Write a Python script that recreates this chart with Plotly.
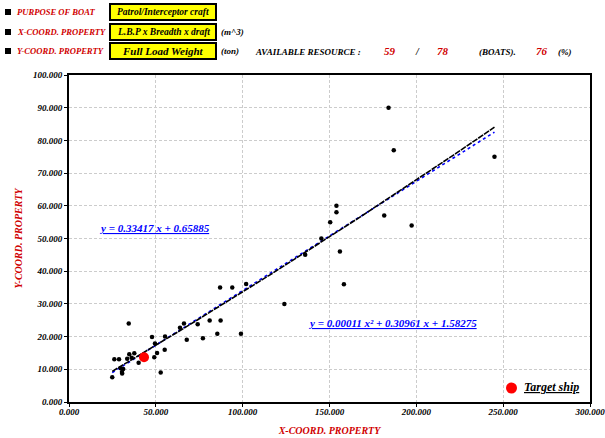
import plotly.graph_objects as go
import numpy as np

# ---------------- data ----------------
x_vals = [184, 187, 245, 154, 154, 150.4, 181.5, 197.3, 145.3, 136, 156, 158.3, 124, 102, 94, 87,
          99, 87.3, 85.4, 81, 77.1, 74.1, 67.8, 66.2, 63.9, 55.3, 55.1, 52.8, 50.7, 49.5, 49.1, 47.8,
          24.9, 26.1, 28.8, 34.4, 34.7, 36.1, 37.6, 40.1, 29.8, 30.5, 31.2, 30.6, 33.5]
y_vals = [90, 77, 75, 60, 58, 55, 57, 54, 50, 45, 46, 36, 30, 36.1, 35, 35,
          20.9, 24.9, 20.9, 24.9, 19.5, 23.8, 19, 24, 22.7, 20, 16, 9, 15, 17.9, 13.7, 19.9,
          7.6, 13.1, 13.1, 24, 14.6, 13.5, 14.9, 12, 10.3, 9.2, 10.1, 8.7, 13.2]
target_x = [43.2]
target_y = [13.7]
lin_coef = [0.33417, 0.65885]            # y = a x + b
quad_coef = [0.00011, 0.30961, 1.58275]  # y = a x^2 + b x + c
x_ticks = [0, 50, 100, 150, 200, 250, 300]
y_ticks = [0, 10, 20, 30, 40, 50, 60, 70, 80, 90, 100]

purpose = "Patrol/Interceptor craft"
x_prop = "L.B.P x Breadth x draft"
y_prop = "Full Load Weight"
avail, total, pct = "59", "78", "76"

# ---------------- layout helpers ----------------
W, H = 605, 438
L, R, T, B = 69, 590, 75, 402
def px(x):
    return (x - L) / (R - L)
def py(y):
    return (B - y) / (B - T)

SERIF = "Liberation Serif"
RED = "#d00000"

fig = go.Figure()

xf = np.linspace(min(x_vals), max(x_vals), 120)
fig.add_trace(go.Scatter(x=xf, y=lin_coef[0] * xf + lin_coef[1], mode="lines",
                         line=dict(color="#0000ff", width=1.6, dash="dot"),
                         showlegend=False, hoverinfo="skip"))
fig.add_trace(go.Scatter(x=xf, y=quad_coef[0] * xf**2 + quad_coef[1] * xf + quad_coef[2], mode="lines",
                         line=dict(color="black", width=1.6, dash="6px,1px"),
                         showlegend=False, hoverinfo="skip"))
fig.add_trace(go.Scatter(x=x_vals, y=y_vals, mode="markers",
                         marker=dict(color="black", size=4.5), showlegend=False))
fig.add_trace(go.Scatter(x=target_x, y=target_y, mode="markers",
                         marker=dict(color="#ff0000", size=10),
                         name="Target ship", showlegend=False))

ann = []
shapes = []
def text(x, y, s, color="black", size=9, anchor="left"):
    ann.append(dict(x=px(x), y=py(y), xref="paper", yref="paper", text=s, showarrow=False,
                    xanchor=anchor, yanchor="middle",
                    font=dict(family=SERIF, size=size, color=color, weight="bold", style="italic")))

rows = [(12, "PURPOSE OF BOAT", purpose, None),
        (32, "X-COORD. PROPERTY", x_prop, "(m^3)"),
        (51, "Y-COORD. PROPERTY", y_prop, "(ton)")]
for i, (yy, lab, box, unit) in enumerate(rows):
    shapes.append(dict(type="rect", xref="paper", yref="paper", x0=px(5), x1=px(11),
                       y0=py(yy - 3), y1=py(yy + 3), fillcolor="black", line=dict(width=0)))
    text(15, yy, lab, RED, 8.6)
    shapes.append(dict(type="rect", xref="paper", yref="paper", x0=px(110), x1=px(216),
                       y0=py(yy - 8), y1=py(yy + 8), fillcolor="#ffff00",
                       line=dict(color="black", width=2)))
    text(163, yy, box, "black", 11 if i == 2 else 9.5, "center")
    if unit:
        text(219, yy, unit, "black", 9)

text(253, 52, "AVAILABLE RESOURCE :", "black", 9)
text(390, 51, avail, RED, 11, "center")
text(417, 51, "/", "black", 10, "center")
text(443, 51, total, RED, 11, "center")
text(477, 52, "(BOATS).", "black", 9)
text(542, 51, pct, RED, 11, "center")
text(556, 52, "(%)", "black", 9)

# equations
text(97, 228, "<u>y = %.5f x + %.5f</u>" % (lin_coef[0], lin_coef[1]), "#0000ff", 11)
text(306, 323, "<u>y = %.5f x² + %.5f x + %.5f</u>" % tuple(quad_coef), "#0000ff", 11)

# legend-like key for the target ship
shapes.append(dict(type="circle", xref="paper", yref="paper", x0=px(506), x1=px(517),
                   y0=py(382.5), y1=py(393.5), fillcolor="#ff0000", line=dict(width=0)))
text(522, 387, "<u>Target ship</u>", "black", 12)

fig.update_layout(
    width=W, height=H,
    margin=dict(l=L, r=W - R, t=T, b=H - B),
    paper_bgcolor="white", plot_bgcolor="white",
    annotations=ann, shapes=shapes, showlegend=False,
    xaxis=dict(range=[0, 300], tickvals=x_ticks, tickformat=".3f", automargin=False,
               ticklabeloverflow="allow", ticklabelstandoff=-3,
               showgrid=True, gridcolor="#cccccc", griddash="3px,2px", gridwidth=1,
               showline=True, linecolor="black", linewidth=2, mirror=True,
               ticks="outside", ticklen=3, tickcolor="black", zeroline=False,
               tickfont=dict(family=SERIF, size=9, color="black", weight="bold", style="italic"),
               title=dict(text="X-COORD. PROPERTY", standoff=11,
                          font=dict(family=SERIF, size=10, color=RED, weight="bold", style="italic"))),
    yaxis=dict(range=[0, 100], tickvals=y_ticks, tickformat=".3f", automargin=False,
               ticklabeloverflow="allow",
               showgrid=True, gridcolor="#cccccc", griddash="3px,2px", gridwidth=1,
               showline=True, linecolor="black", linewidth=2, mirror=True,
               ticks="outside", ticklen=3, tickcolor="black", zeroline=False,
               tickfont=dict(family=SERIF, size=9, color="black", weight="bold", style="italic"),
               title=dict(text="Y-COORD. PROPERTY", standoff=8,
                          font=dict(family=SERIF, size=10, color=RED, weight="bold", style="italic"))),
)

fig.write_html("out.html")
